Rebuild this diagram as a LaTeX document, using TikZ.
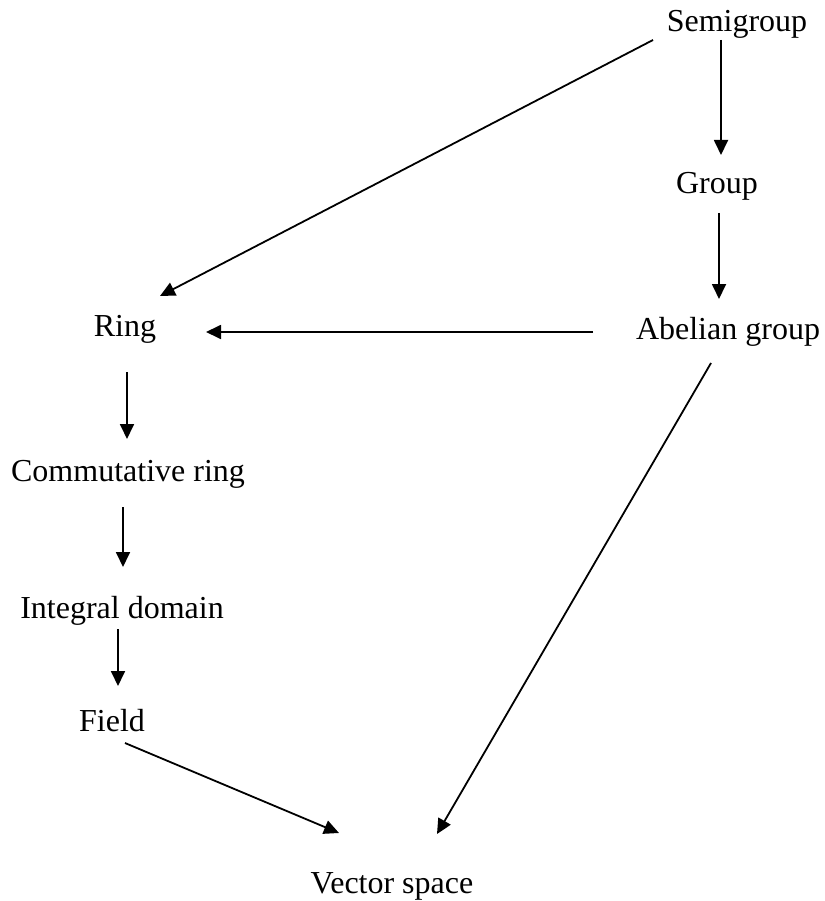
\documentclass[tikz,border=0pt]{standalone}
\usepackage{fontspec}
\setmainfont{Liberation Serif}
\usetikzlibrary{arrows.meta}
\begin{document}
\begin{tikzpicture}[x=1pt,y=-1pt,
  lbl/.style={anchor=base,inner sep=0pt,font=\fontsize{32}{38}\selectfont},
  arr/.style={line width=1.8pt,-{Triangle[length=15pt,width=14pt]}}]
\useasboundingbox (0,0) rectangle (824,901);
\node[lbl] (semi) at (737,32) {Semigroup};
\node[lbl] (group) at (717,194) {Group};
\node[lbl] (abel) at (728,339) {Abelian group};
\node[lbl] (ring) at (125,336) {Ring};
\node[lbl] (comm) at (128,481) {Commutative ring};
\node[lbl] (integ) at (122,618) {Integral domain};
\node[lbl] (field) at (112,731) {Field};
\node[lbl] (vec) at (392,893) {Vector space};
% connector end points
\coordinate (a1) at (653,40);  \coordinate (a2) at (160,296);
\coordinate (b1) at (721,40);  \coordinate (b2) at (721,155);
\coordinate (c1) at (719,213); \coordinate (c2) at (719,299);
\coordinate (d1) at (593,332); \coordinate (d2) at (206,332);
\coordinate (e1) at (127,372); \coordinate (e2) at (127,439);
\coordinate (f1) at (123,507); \coordinate (f2) at (123,567);
\coordinate (g1) at (118,629); \coordinate (g2) at (118,686);
\coordinate (h1) at (125,743); \coordinate (h2) at (339,833);
\coordinate (i1) at (711,363); \coordinate (i2) at (437,834);
\draw[arr] (a1) -- (a2);
\draw[arr] (b1) -- (b2);
\draw[arr] (c1) -- (c2);
\draw[arr] (d1) -- (d2);
\draw[arr] (e1) -- (e2);
\draw[arr] (f1) -- (f2);
\draw[arr] (g1) -- (g2);
\draw[arr] (h1) -- (h2);
\draw[arr] (i1) -- (i2);
\end{tikzpicture}
\end{document}
